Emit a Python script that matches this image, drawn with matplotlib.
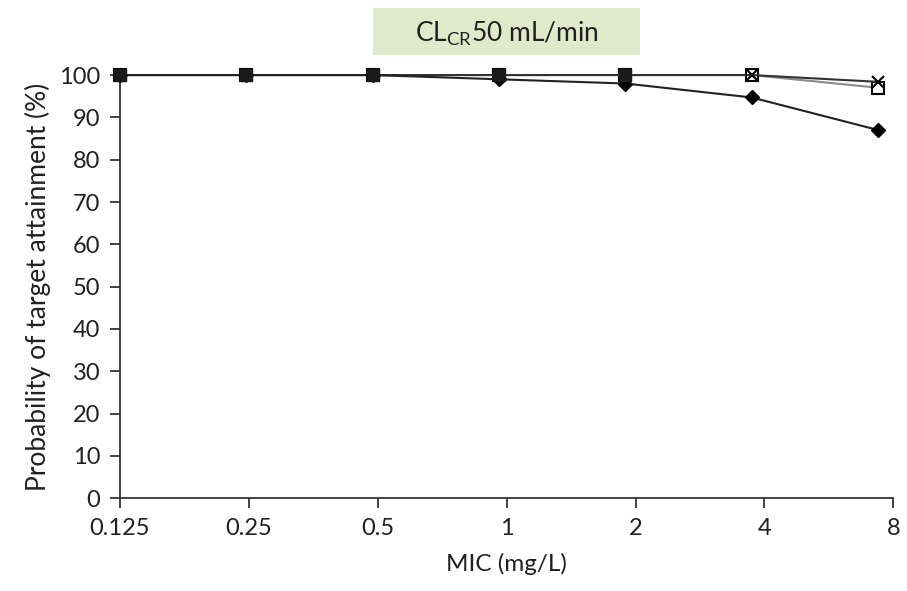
import matplotlib
matplotlib.use("Agg")
import matplotlib.pyplot as plt
from matplotlib.patches import Rectangle
import numpy as np

plt.rcParams['font.family'] = ['Lato', 'DejaVu Sans']
plt.rcParams['mathtext.fontset'] = 'custom'
plt.rcParams['mathtext.rm'] = 'Lato'

mic_labels = ['0.125', '0.25', '0.5', '1', '2', '4', '8']
pta_diamond = [100, 100, 100, 99, 98, 94.7, 87]
pta_square = [100, 100, 100, 100, 100, 100, 97]
pta_cross = [100, 100, 100, 100, 100, 100, 98.4]

txt = '#231f20'
fig = plt.figure(figsize=(9.07, 5.91), dpi=100)
ax = fig.add_axes([0.132, 0.157, 0.853, 0.716])

x = np.arange(len(mic_labels))
# the points in the original sit a bit left of the tick marks
tick_pos = x * 1.02

ax.plot(x, pta_square, color='#8a8a8a', lw=1.5, marker='s', ms=9,
        mfc='white', mec='black', mew=1.5, clip_on=False, zorder=3)
ax.plot(x, pta_cross, color='#333333', lw=1.5, marker='x', ms=9,
        mew=1.5, mec='black', clip_on=False, zorder=4)
ax.plot(x, pta_diamond, color='#222222', lw=1.5, marker='D', ms=7,
        mfc='black', mec='black', clip_on=False, zorder=5)
# filled squares over the overlapping 100% points
ax.plot(x[:5], pta_square[:5], ls='none', marker='s', ms=9, color='#1a1a1a',
        clip_on=False, zorder=6)

ax.set_xlim(0, tick_pos[-1])
ax.set_ylim(0, 100)
ax.set_xticks(tick_pos)
ax.set_xticklabels(mic_labels)
ax.set_yticks(np.arange(0, 101, 10))
for s in ['top', 'right']:
    ax.spines[s].set_visible(False)
for s in ['left', 'bottom']:
    ax.spines[s].set_linewidth(1.3)
    ax.spines[s].set_color('#333333')
ax.tick_params(direction='out', length=7, width=1.3, color='#333333',
               labelsize=17, labelcolor=txt, pad=7)
ax.set_xlabel('MIC (mg/L)', fontsize=17.5, color=txt, labelpad=10)
ax.set_ylabel('Probability of target attainment (%)', fontsize=19, color=txt,
              labelpad=6)

fig.patches.append(Rectangle((373 / 907, 1 - 55 / 591), 267 / 907, 47 / 591,
                             transform=fig.transFigure, facecolor='#e0eacb',
                             edgecolor='none'))
fig.text(507 / 907, 1 - 34 / 591, r'CL$_{\mathregular{CR}}$50 mL/min',
         fontsize=19, color=txt, ha='center', va='center')

fig.savefig('out.png', dpi=100)
